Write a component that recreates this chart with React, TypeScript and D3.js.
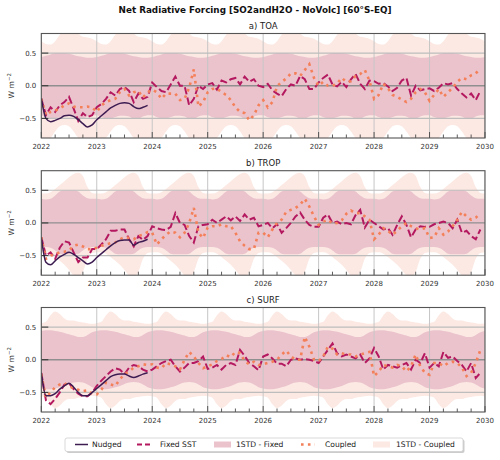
import React from "react";
import * as d3 from "d3";

// ---------- data ----------
const YEAR_TICKS = [2022, 2023, 2024, 2025, 2026, 2027, 2028, 2029, 2030];
const Y_TICKS = [-0.5, 0, 0.5];
const START_YEAR = 2022;
const END_YEAR = 2030;

// monthly series (first value = Jan 2022)
const TOA_NUDGED = [-0.19,-0.5,-0.55,-0.53,-0.5,-0.46,-0.45,-0.47,-0.52,-0.58,-0.63,-0.6,-0.52,-0.46,-0.4,-0.34,-0.3,-0.27,-0.26,-0.27,-0.32,-0.35,-0.33,-0.3];
const TOA_FIXED = [
  -0.2,-0.45,-0.33,-0.4,-0.3,-0.25,-0.17,-0.35,-0.54,-0.42,-0.48,-0.45,
  -0.33,-0.28,-0.2,-0.1,-0.15,-0.05,-0.02,-0.08,-0.25,-0.12,-0.2,-0.17,
  0.05,-0.02,-0.08,-0.1,0.02,0.14,0.0,0.0,-0.3,-0.2,0.0,-0.05,
  0.02,0.04,-0.06,0.08,0.05,0.1,0.12,0.02,0.14,0.06,0.1,0.0,
  -0.02,0.03,-0.07,-0.12,-0.16,-0.05,0.02,0.0,0.15,0.1,-0.05,-0.05,
  0.05,0.12,0.17,0.02,-0.01,0.06,-0.02,0.1,0.18,0.03,-0.05,0.08,
  0.07,0.03,0.04,-0.01,-0.08,-0.03,0.08,0.12,-0.15,0.0,-0.07,-0.05,
  -0.04,-0.08,-0.03,0.04,0.02,0.04,-0.05,-0.12,-0.18,-0.12,-0.22,-0.08];
const TOA_COUPLED = [
  -0.2,-0.45,-0.4,-0.38,-0.35,-0.3,-0.27,-0.32,-0.33,-0.33,-0.32,-0.33,
  -0.4,-0.3,-0.25,-0.22,-0.2,-0.1,-0.05,-0.15,-0.1,-0.08,-0.18,-0.1,
  -0.06,-0.1,-0.2,-0.12,-0.12,-0.12,-0.22,-0.2,-0.03,0.25,-0.32,-0.25,
  -0.1,-0.05,-0.04,-0.1,-0.14,-0.22,-0.33,-0.4,-0.42,-0.53,-0.45,-0.3,
  -0.22,-0.33,-0.25,-0.01,0.06,0.11,0.19,0.19,0.15,0.24,0.33,0.12,
  0.0,0.06,0.0,0.0,0.03,0.12,0.06,0.07,0.15,0.18,0.24,0.08,
  -0.2,-0.14,0.03,-0.04,-0.14,-0.17,-0.21,-0.25,-0.2,-0.1,-0.05,-0.1,
  -0.23,-0.14,-0.05,-0.17,-0.1,-0.03,0.06,0.12,0.1,0.16,0.19,0.26];

const TROP_NUDGED = [-0.22,-0.6,-0.64,-0.58,-0.52,-0.48,-0.45,-0.48,-0.53,-0.58,-0.63,-0.6,-0.53,-0.47,-0.41,-0.35,-0.3,-0.27,-0.26,-0.26,-0.34,-0.3,-0.28,-0.25];
const TROP_FIXED = [
  -0.22,-0.5,-0.45,-0.55,-0.38,-0.28,-0.3,-0.45,-0.6,-0.53,-0.53,-0.4,
  -0.4,-0.33,-0.25,-0.12,-0.12,-0.1,-0.1,-0.25,-0.36,-0.2,-0.26,-0.2,
  -0.05,-0.08,-0.1,-0.11,-0.06,0.15,0.0,-0.03,-0.2,-0.3,-0.05,-0.03,
  -0.02,0.05,0.0,0.05,0.1,0.04,0.1,0.03,0.13,0.05,0.08,-0.05,
  -0.03,0.0,-0.08,-0.02,-0.15,-0.08,0.0,0.1,0.16,0.05,-0.03,-0.06,
  -0.06,0.08,0.13,0.0,0.02,-0.02,0.0,-0.02,0.12,0.2,-0.07,0.05,
  0.0,-0.05,-0.1,-0.08,-0.18,-0.03,0.1,-0.03,-0.22,-0.1,-0.05,-0.06,
  -0.06,-0.02,0.0,0.02,0.0,-0.08,0.05,-0.15,-0.12,-0.2,-0.25,-0.1];
const TROP_COUPLED = [
  -0.22,-0.55,-0.5,-0.48,-0.45,-0.44,-0.42,-0.35,-0.33,-0.36,-0.4,-0.4,
  -0.38,-0.35,-0.33,-0.31,-0.3,-0.25,-0.22,-0.23,-0.25,-0.2,-0.18,-0.14,
  -0.15,-0.33,-0.25,-0.18,-0.13,-0.15,-0.22,-0.15,0.0,0.23,-0.15,-0.23,
  -0.07,-0.05,-0.05,-0.02,-0.05,-0.05,-0.15,-0.28,-0.35,-0.4,-0.4,-0.15,
  -0.15,-0.22,-0.1,0.0,0.05,0.17,0.2,0.23,0.28,0.37,0.25,0.1,
  -0.03,0.02,0.05,-0.01,0.0,0.04,0.14,0.19,0.15,0.15,0.1,0.05,
  -0.25,-0.18,-0.08,-0.12,-0.18,-0.12,-0.05,0.0,-0.05,-0.08,-0.1,-0.08,
  -0.23,-0.22,-0.08,-0.18,-0.13,-0.05,0.05,0.17,0.1,0.05,0.08,0.15];

const SURF_NUDGED = [-0.2,-0.55,-0.55,-0.52,-0.45,-0.4,-0.36,-0.42,-0.5,-0.55,-0.55,-0.5,-0.44,-0.38,-0.32,-0.26,-0.23,-0.22,-0.22,-0.25,-0.27,-0.25,-0.22,-0.2];
const SURF_FIXED = [
  -0.2,-0.62,-0.68,-0.6,-0.5,-0.38,-0.36,-0.45,-0.52,-0.56,-0.56,-0.5,
  -0.4,-0.32,-0.25,-0.18,-0.13,-0.15,-0.22,-0.12,-0.08,-0.1,-0.15,-0.18,
  -0.15,-0.1,-0.05,-0.02,0.0,-0.1,-0.18,-0.12,-0.05,-0.05,-0.02,0.05,
  -0.14,-0.12,-0.08,-0.15,-0.08,-0.05,-0.08,0.15,0.06,-0.05,-0.1,-0.16,
  0.05,0.08,0.02,-0.06,-0.06,-0.1,0.0,0.02,0.0,0.01,0.0,-0.02,
  -0.05,0.05,0.15,0.25,0.1,0.05,0.08,0.05,0.02,0.08,-0.05,0.02,
  0.18,0.05,-0.15,-0.08,-0.1,-0.12,-0.08,-0.05,-0.15,0.0,-0.05,0.1,
  -0.12,-0.05,-0.1,0.12,0.03,0.05,-0.02,-0.08,-0.18,-0.05,-0.28,-0.2];
const SURF_COUPLED = [
  -0.22,-0.58,-0.5,-0.42,-0.38,-0.36,-0.4,-0.44,-0.46,-0.48,-0.47,-0.52,
  -0.53,-0.46,-0.35,-0.38,-0.4,-0.3,-0.22,-0.18,-0.12,-0.1,-0.07,-0.08,
  -0.07,-0.12,-0.13,-0.05,-0.07,-0.1,-0.15,0.0,0.12,0.05,-0.05,-0.13,
  -0.1,-0.07,-0.02,0.01,0.07,0.04,0.12,0.1,-0.02,-0.07,-0.03,-0.08,
  -0.07,-0.05,-0.03,0.0,0.08,0.14,0.05,0.0,0.0,0.35,0.2,0.0,
  -0.02,0.05,0.2,0.17,0.08,0.1,0.08,0.08,0.05,0.08,0.1,0.12,
  -0.25,-0.18,-0.08,-0.1,-0.12,-0.08,-0.1,-0.18,-0.1,0.08,-0.1,-0.2,
  -0.23,-0.05,-0.05,-0.1,-0.05,-0.03,-0.05,-0.12,-0.25,-0.2,-0.05,0.15];

// monthly 1-STD envelopes (Jan..Dec climatology, repeated each year)
const TOA_FIXED_UP = [0.44,0.46,0.48,0.5,0.5,0.5,0.49,0.47,0.45,0.44,0.43,0.43];
const TOA_FIXED_LO = [-0.45,-0.48,-0.5,-0.5,-0.48,-0.46,-0.46,-0.47,-0.5,-0.5,-0.47,-0.45];
const TOA_COUP_UP = [0.68,0.64,0.63,0.68,0.78,0.85,0.85,0.85,0.8,0.75,0.74,0.72];
const TOA_COUP_LO = [-0.8,-0.85,-0.8,-0.7,-0.62,-0.6,-0.62,-0.7,-0.8,-0.85,-0.85,-0.82];

const TROP_FIXED_UP = [0.37,0.36,0.37,0.42,0.48,0.5,0.5,0.5,0.48,0.42,0.38,0.37];
const TROP_FIXED_LO = [-0.37,-0.37,-0.38,-0.42,-0.47,-0.48,-0.48,-0.48,-0.47,-0.42,-0.38,-0.37];
const TROP_COUP_UP = [0.45,0.45,0.47,0.52,0.58,0.64,0.7,0.75,0.77,0.72,0.55,0.46];
const TROP_COUP_LO = [-0.45,-0.45,-0.47,-0.52,-0.58,-0.64,-0.72,-0.8,-0.82,-0.75,-0.55,-0.46];

const SURF_FIXED_UP = [0.44,0.45,0.45,0.44,0.43,0.41,0.39,0.37,0.35,0.35,0.38,0.42];
const SURF_FIXED_LO = [-0.44,-0.45,-0.45,-0.44,-0.42,-0.4,-0.37,-0.35,-0.34,-0.35,-0.38,-0.42];
const SURF_COUP_UP = [0.56,0.58,0.68,0.74,0.7,0.63,0.6,0.6,0.58,0.57,0.56,0.55];
const SURF_COUP_LO = [-0.56,-0.58,-0.68,-0.74,-0.7,-0.63,-0.6,-0.6,-0.58,-0.57,-0.56,-0.55];

const TITLE = "Net Radiative Forcing [SO2andH2O - NoVolc] [60°S-EQ]";
const PANEL_TITLES = ["a) TOA", "b) TROP", "c) SURF"];
const LEGEND_LABELS = ["Nudged", "Fixed SST", "1STD - Fixed", "Coupled", "1STD - Coupled"];

// ---------- style ----------
const FONT = "'DejaVu Sans', 'Liberation Sans', sans-serif";
const C_NUDGED = "#3d1c52";
const C_FIXED = "#b4195f";
const C_COUPLED = "#f4805a";
const C_BAND_FIXED = "#ebc3cd";
const C_BAND_COUPLED = "#fce9e3";

const X_LEFT = 41.3;
const X_RIGHT = 485;
const PANEL_H = 104.5;
const PANEL_TOPS = [33.5, 170.7, 307.5];

type PanelData = {
  title: string;
  nudged: number[];
  fixed: number[];
  coupled: number[];
  fUp: number[]; fLo: number[]; cUp: number[]; cLo: number[];
};

const PANEL_DATA: PanelData[] = [
  { title: PANEL_TITLES[0], nudged: TOA_NUDGED, fixed: TOA_FIXED, coupled: TOA_COUPLED, fUp: TOA_FIXED_UP, fLo: TOA_FIXED_LO, cUp: TOA_COUP_UP, cLo: TOA_COUP_LO },
  { title: PANEL_TITLES[1], nudged: TROP_NUDGED, fixed: TROP_FIXED, coupled: TROP_COUPLED, fUp: TROP_FIXED_UP, fLo: TROP_FIXED_LO, cUp: TROP_COUP_UP, cLo: TROP_COUP_LO },
  { title: PANEL_TITLES[2], nudged: SURF_NUDGED, fixed: SURF_FIXED, coupled: SURF_COUPLED, fUp: SURF_FIXED_UP, fLo: SURF_FIXED_LO, cUp: SURF_COUP_UP, cLo: SURF_COUP_LO },
];

const monthT = (i: number) => START_YEAR + i / 12;

function bandRows(up: number[], lo: number[]) {
  const n = (END_YEAR - START_YEAR) * 12;
  const rows: { t: number; u: number; l: number }[] = [];
  for (let k = 0; k <= n; k++) rows.push({ t: monthT(k), u: up[k % 12], l: lo[k % 12] });
  return rows;
}

const x = d3.scaleLinear().domain([START_YEAR, END_YEAR]).range([X_LEFT, X_RIGHT]);

function Panel({ d, top, idx }: { d: PanelData; top: number; idx: number }) {
  const bottom = top + PANEL_H;
  const y = d3.scaleLinear().domain([-0.8, 0.8]).range([bottom, top]);
  const area = d3.area<{ t: number; u: number; l: number }>()
    .x((r) => x(r.t)).y0((r) => y(r.l)).y1((r) => y(r.u)).curve(d3.curveMonotoneX);
  const line = d3.line<number>().x((_, i) => x(monthT(i))).y((v) => y(v));
  const smooth = d3.line<number>().x((_, i) => x(monthT(i))).y((v) => y(v)).curve(d3.curveMonotoneX);
  const clipId = `clip${idx}`;
  const quarters: number[] = [];
  for (let q = START_YEAR * 4; q <= END_YEAR * 4; q++) if (q % 4 !== 0) quarters.push(q / 4);
  const fmtY = (v: number) => (v < 0 ? "\u2212" : "") + Math.abs(v).toFixed(1);
  return (
    <g>
      <defs>
        <clipPath id={clipId}>
          <rect x={X_LEFT} y={top} width={X_RIGHT - X_LEFT} height={PANEL_H} />
        </clipPath>
      </defs>
      <g clipPath={`url(#${clipId})`}>
        <path d={area(bandRows(d.cUp, d.cLo)) || ""} fill={C_BAND_COUPLED} />
        <path d={area(bandRows(d.fUp, d.fLo)) || ""} fill={C_BAND_FIXED} />
        {YEAR_TICKS.map((t) => (
          <line key={t} x1={x(t)} x2={x(t)} y1={top} y2={bottom} stroke="#c6c6c6" strokeWidth={1} />
        ))}
        {Y_TICKS.map((v) => (
          <line key={v} x1={X_LEFT} x2={X_RIGHT} y1={y(v)} y2={y(v)} stroke={v === 0 ? "#8f8f8f" : "#bdbdbd"} strokeWidth={v === 0 ? 1.3 : 1.1} />
        ))}
        <path d={line(d.fixed) || ""} fill="none" stroke={C_FIXED} strokeWidth={2} strokeDasharray="7.4 3.2" />
        <path d={line(d.coupled) || ""} fill="none" stroke={C_COUPLED} strokeWidth={2.6} strokeDasharray="2.6 4.3" />
        <path d={smooth(d.nudged) || ""} fill="none" stroke={C_NUDGED} strokeWidth={1.5} />
      </g>
      {/* ticks */}
      {quarters.map((q) => (
        <line key={q} x1={x(q)} x2={x(q)} y1={bottom} y2={bottom - 3.5} stroke="#333" strokeWidth={0.8} />
      ))}
      {YEAR_TICKS.map((t) => (
        <line key={"m" + t} x1={x(t)} x2={x(t)} y1={bottom} y2={bottom - 6} stroke="#333" strokeWidth={0.8} />
      ))}
      {Y_TICKS.map((v) => (
        <line key={"yt" + v} x1={X_LEFT} x2={X_LEFT + 7} y1={y(v)} y2={y(v)} stroke="#222" strokeWidth={0.9} />
      ))}
      <rect x={X_LEFT} y={top} width={X_RIGHT - X_LEFT} height={PANEL_H} fill="none" stroke="#555" strokeWidth={1.1} />
      {/* labels */}
      {YEAR_TICKS.map((t) => (
        <text key={"xl" + t} x={x(t)} y={bottom + 10.5} textAnchor="middle" fontSize={7} fill="#333" fontFamily={FONT}>{t}</text>
      ))}
      {Y_TICKS.map((v) => (
        <text key={"yl" + v} x={X_LEFT - 5} y={y(v) + 2.5} textAnchor="end" fontSize={7} fill="#333" fontFamily={FONT}>{fmtY(v)}</text>
      ))}
      <text x={(X_LEFT + X_RIGHT) / 2} y={top - 5} textAnchor="middle" fontSize={8.5} fill="#222" fontFamily={FONT}>{d.title}</text>
      <text transform={`translate(14,${(top + bottom) / 2}) rotate(-90)`} textAnchor="middle" fontSize={7.6} fill="#333" fontFamily={FONT}>
        W m<tspan dy={-3} fontSize={5.4}>−2</tspan>
      </text>
    </g>
  );
}

function Legend() {
  const yc = 444.5;
  const items = [
    { kind: "nudged", x0: 75, tx: 92 },
    { kind: "fixed", x0: 137, tx: 160 },
    { kind: "bandF", x0: 214, tx: 236 },
    { kind: "coupled", x0: 301, tx: 325 },
    { kind: "bandC", x0: 373, tx: 396 },
  ];
  return (
    <g>
      <rect x={66.5} y={439.5} width={398} height={13.5} rx={2} fill="#999" opacity={0.5} />
      <rect x={65} y={438} width={398} height={13.5} rx={2} fill="#fff" stroke="#cfcfcf" strokeWidth={0.8} />
      {items.map((it, i) => (
        <g key={i}>
          {it.kind === "nudged" && <line x1={it.x0} x2={it.x0 + 13} y1={yc} y2={yc} stroke={C_NUDGED} strokeWidth={1.5} />}
          {it.kind === "fixed" && <line x1={it.x0} x2={it.x0 + 14} y1={yc} y2={yc} stroke={C_FIXED} strokeWidth={2} strokeDasharray="5 3" />}
          {it.kind === "coupled" && <line x1={it.x0} x2={it.x0 + 14} y1={yc} y2={yc} stroke={C_COUPLED} strokeWidth={2.6} strokeDasharray="2.6 4.3" />}
          {it.kind === "bandF" && <rect x={it.x0} y={yc - 3} width={17} height={6} fill={C_BAND_FIXED} />}
          {it.kind === "bandC" && <rect x={it.x0} y={yc - 3} width={17} height={6} fill={C_BAND_COUPLED} />}
          <text x={it.tx} y={yc + 2.7} fontSize={7.6} fill="#222" fontFamily={FONT}>{LEGEND_LABELS[i]}</text>
        </g>
      ))}
    </g>
  );
}

export default function App() {
  return (
    <svg width={500} height={460} viewBox="0 0 500 460" style={{ position: "absolute", left: 0, top: 0, background: "#fff" }}>
      <rect x={0} y={0} width={500} height={460} fill="#fff" />
      <text x={255} y={13} textAnchor="middle" fontSize={8.8} fontWeight="bold" fill="#111" fontFamily={FONT}>{TITLE}</text>
      {PANEL_DATA.map((d, i) => (
        <Panel key={i} d={d} top={PANEL_TOPS[i]} idx={i} />
      ))}
      <Legend />
    </svg>
  );
}
